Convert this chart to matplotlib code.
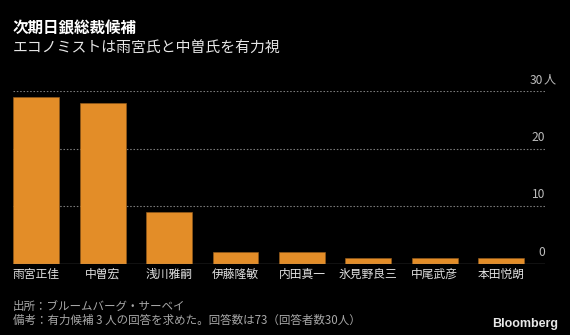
import matplotlib
matplotlib.use('Agg')
import matplotlib.pyplot as plt

plt.rcParams['font.family'] = ['Noto Sans CJK JP', 'DejaVu Sans']

# data
names = ['雨宮正佳', '中曽宏', '浅川雅嗣', '伊藤隆敏', '内田真一', '氷見野良三', '中尾武彦', '本田悦朗']
votes = [29, 28, 9, 2, 2, 1, 1, 1]
yticks = [0, 10, 20, 30]

title = '次期日銀総裁候補'
subtitle = 'エコノミストは雨宮氏と中曽氏を有力視'
note1 = '出所：ブルームバーグ・サーベイ'
note2 = '備考：有力候補 3 人の回答を求めた。回答数は73（回答者数30人）'

W, H = 570, 335
fig = plt.figure(figsize=(W / 100, H / 100), dpi=100, facecolor='black')
# axes box in pixels: left 13.3, right 545, top 91, bottom 263.5
ax = fig.add_axes([13.3 / W, 1 - 263.5 / H, (545 - 13.3) / W, (263.5 - 91) / H])
ax.set_facecolor('black')

x = list(range(len(names)))
ax.bar(x, votes, width=0.69, color='#e38d28', edgecolor='#9a5f1c', linewidth=0.4, zorder=3)

ax.set_xlim(-0.347, 7.66)
ax.set_ylim(0, 30)

for v in yticks:
    if v == 0:
        ax.axhline(v, color='#8c8c8c', lw=0.9, zorder=4)
    else:
        ax.axhline(v, color='#7a7a7a', lw=0.8, dashes=(1.4, 1.6), zorder=1)
    ax.annotate(str(v), xy=(1, v), xycoords=ax.get_yaxis_transform(),
                xytext=(-1.2 if v == 30 else 0, 5.4), textcoords='offset points',
                ha='right', va='baseline', color='#bdbdbd', fontsize=8.7)
ax.annotate('人', xy=(1, 30), xycoords=ax.get_yaxis_transform(),
            xytext=(-0.8, 5.4), textcoords='offset points',
            ha='left', va='baseline', color='#bdbdbd', fontsize=8.7)

ax.set_xticks(x)
ax.set_xticklabels(names, fontsize=8.5, color='#e0e0e0')
ax.tick_params(axis='x', length=0, pad=3)
ax.set_yticks([])
for s in ax.spines.values():
    s.set_visible(False)

fig.text(13 / W, 1 - 28.3 / H, title, color='white', fontsize=11.2,
         fontweight='bold', va='center', ha='left')
fig.text(13 / W, 1 - 48.3 / H, subtitle, color='#e6e6e6', fontsize=10.7,
         va='center', ha='left')
fig.text(12.7 / W, 1 - 306 / H, note1, color='#a8a8a8', fontsize=8.3,
         va='center', ha='left')
fig.text(12.7 / W, 1 - 320.7 / H, note2, color='#a8a8a8', fontsize=8.3,
         va='center', ha='left')
fig.text(558 / W, 1 - 323.5 / H, 'Bloomberg', color='#e8e8e8', fontsize=9,
         fontweight='bold', family='Liberation Sans', va='center', ha='right')

fig.savefig('out.png', dpi=100, facecolor='black')
